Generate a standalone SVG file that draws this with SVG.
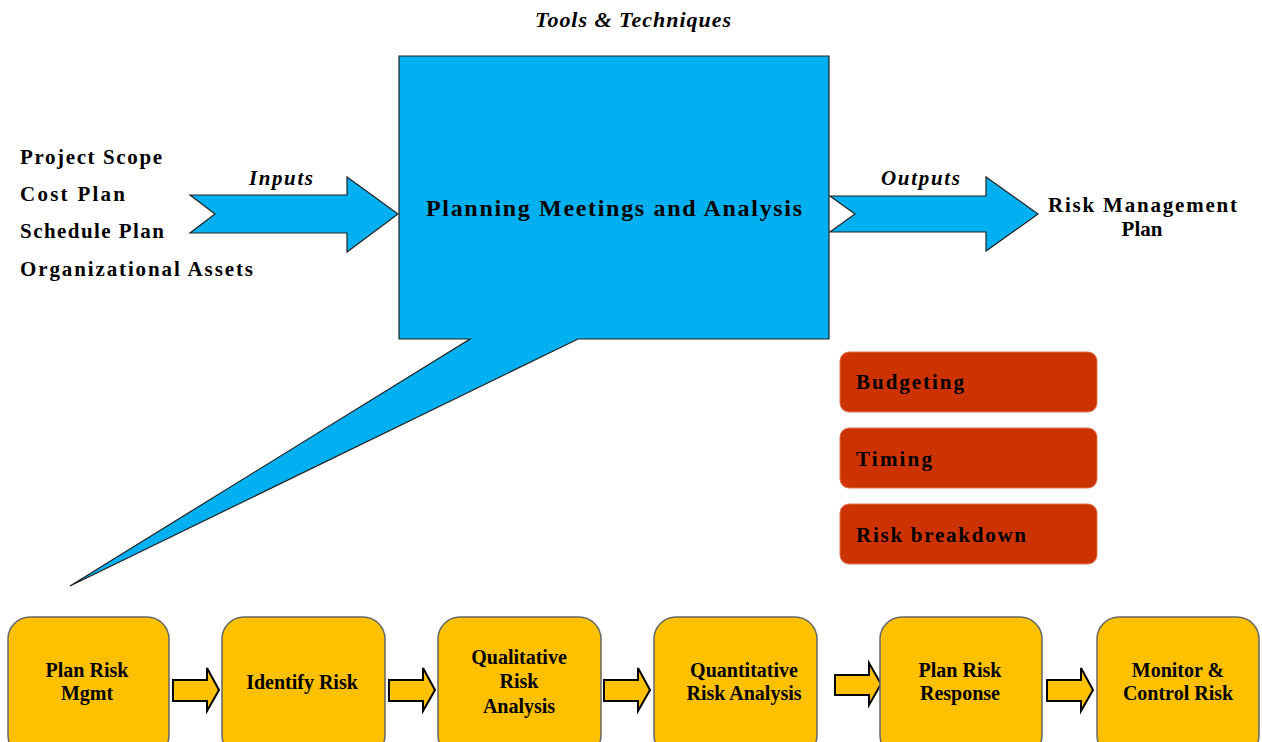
<svg xmlns="http://www.w3.org/2000/svg" width="1262" height="742" viewBox="0 0 1262 742">
<style>
.t{font-family:"Liberation Serif","Tinos","Times New Roman","DejaVu Serif",serif;font-weight:bold;fill:#000}
.it{font-style:italic}
.blue{fill:#00B0F0;stroke:#222;stroke-width:1.2}
.step{fill:#FFC000;stroke:#666;stroke-width:1.5}
.tool{fill:#CC3300;stroke:#e07050;stroke-width:1}
.sa{fill:#FFC000;stroke:#000;stroke-width:2}
</style>
<rect width="1262" height="742" fill="#fff"/>
<text class="t it" x="535" y="27" font-size="22" textLength="196" lengthAdjust="spacing">Tools &amp; Techniques</text>
<g id="inputs-list">
<text class="t" x="20" y="164" font-size="21" textLength="142" lengthAdjust="spacing">Project Scope</text>
<text class="t" x="20" y="201" font-size="21" textLength="105" lengthAdjust="spacing">Cost  Plan</text>
<text class="t" x="20" y="238" font-size="21" textLength="144" lengthAdjust="spacing">Schedule Plan</text>
<text class="t" x="20" y="276" font-size="21" textLength="233" lengthAdjust="spacing">Organizational  Assets</text>
</g>
<g id="connectors">
<path class="blue" d="M190,195 H347 V177 L398,214 L347,252 V233 H190 L215,214 Z"/>
<text class="t it" x="249" y="185" font-size="21" textLength="64" lengthAdjust="spacing">Inputs</text>
<path class="blue" d="M830,196 H986 V177 L1038,214 L986,251 V232 H830 L855,214 Z"/>
<text class="t it" x="881" y="185" font-size="21" textLength="79" lengthAdjust="spacing">Outputs</text>
<path class="sa" d="M173,680 H207 V668 L219,690 L207,711 V701 H173 Z"/>
<path class="sa" d="M389,680 H423 V668 L435,690 L423,711 V701 H389 Z"/>
<path class="sa" d="M604,680 H638 V668 L650,690 L638,711 V701 H604 Z"/>
<path class="sa" d="M835,675 H869 V663 L881,684 L869,705 V695 H835 Z"/>
<path class="sa" d="M1047,680 H1081 V668 L1093,690 L1081,711 V701 H1047 Z"/>
</g>
<g id="planning">
<path class="blue" d="M399,56 H829 V339 H578 L70,586 L470,339 H399 Z"/>
<text class="t" x="426" y="216" font-size="24" textLength="376" lengthAdjust="spacing">Planning Meetings and Analysis</text>
</g>
<g id="output">
<text class="t" x="1048" y="212" font-size="21" textLength="189" lengthAdjust="spacing">Risk Management</text>
<text class="t" x="1142" y="236" font-size="21" text-anchor="middle">Plan</text>
</g>
<g id="budgeting"><rect class="tool" x="840" y="352" width="257" height="60" rx="9"/><text class="t" x="856" y="389" font-size="21" textLength="108" lengthAdjust="spacing">Budgeting</text></g>
<g id="timing"><rect class="tool" x="840" y="428" width="257" height="60" rx="9"/><text class="t" x="856" y="466" font-size="21" textLength="76" lengthAdjust="spacing">Timing</text></g>
<g id="risk-breakdown"><rect class="tool" x="840" y="504" width="257" height="60" rx="9"/><text class="t" x="856" y="542" font-size="21" textLength="170" lengthAdjust="spacing">Risk breakdown</text></g>
<g id="step1"><rect class="step" x="8" y="617" width="161" height="140" rx="22"/><text class="t" x="87" y="677" font-size="20" text-anchor="middle">Plan Risk</text><text class="t" x="87" y="700" font-size="20" text-anchor="middle">Mgmt</text></g>
<g id="step2"><rect class="step" x="222" y="617" width="163" height="140" rx="22"/><text class="t" x="302" y="689" font-size="20" text-anchor="middle">Identify Risk</text></g>
<g id="step3"><rect class="step" x="438" y="617" width="163" height="140" rx="22"/><text class="t" x="519" y="664" font-size="20" text-anchor="middle">Qualitative</text><text class="t" x="519" y="688" font-size="20" text-anchor="middle">Risk</text><text class="t" x="519" y="713" font-size="20" text-anchor="middle">Analysis</text></g>
<g id="step4"><rect class="step" x="654" y="617" width="163" height="140" rx="22"/><text class="t" x="744" y="677" font-size="20" text-anchor="middle">Quantitative</text><text class="t" x="744" y="700" font-size="20" text-anchor="middle">Risk Analysis</text></g>
<g id="step5"><rect class="step" x="880" y="617" width="162" height="140" rx="22"/><text class="t" x="960" y="677" font-size="20" text-anchor="middle">Plan Risk</text><text class="t" x="960" y="700" font-size="20" text-anchor="middle">Response</text></g>
<g id="step6"><rect class="step" x="1097" y="617" width="162" height="140" rx="22"/><text class="t" x="1178" y="677" font-size="20" text-anchor="middle">Monitor &amp;</text><text class="t" x="1178" y="700" font-size="20" text-anchor="middle">Control Risk</text></g>
</svg>
